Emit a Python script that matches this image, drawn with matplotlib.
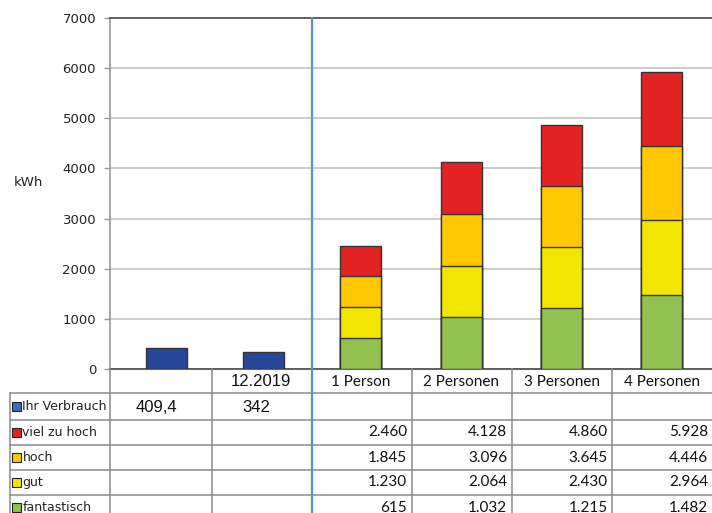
import matplotlib.pyplot as plt
from matplotlib.patches import Rectangle
from matplotlib.transforms import blended_transform_factory

# data
kategorien = ["", "12.2019", "1 Person", "2 Personen", "3 Personen", "4 Personen"]
verbrauch = [409.4, 342]
verbrauch_txt = ["409,4", "342"]
serien = ["viel zu hoch", "hoch", "gut", "fantastisch"]
viel_zu_hoch = [2460, 4128, 4860, 5928]
hoch = [1845, 3096, 3645, 4446]
gut = [1230, 2064, 2430, 2964]
fantastisch = [615, 1032, 1215, 1482]

farben = {"Ihr Verbrauch": "#27479a", "viel zu hoch": "#e32322",
          "hoch": "#ffc800", "gut": "#f2e500", "fantastisch": "#92c151"}

W, H = 712, 513
fig = plt.figure(figsize=(W / 100, H / 100), dpi=100)
ax = fig.add_axes([110 / W, (H - 369) / H, 602 / W, 351 / H])

def fy(p):  # pixel row -> figure fraction
    return 1 - p / H

def fx(p):
    return p / W

# bars
ax.bar([0.06, 1.03], verbrauch, width=0.41, color=farben["Ihr Verbrauch"],
       edgecolor="#333333", linewidth=1, zorder=3)
pos = [2, 3, 4, 5]
for name, werte in zip(serien, [viel_zu_hoch, hoch, gut, fantastisch]):
    ax.bar(pos, werte, width=0.41, color=farben[name], edgecolor="#333333",
           linewidth=1, zorder=3)

ax.set_xlim(-0.5, 5.5)
ax.set_ylim(0, 7000)
ax.set_yticks(range(0, 7001, 1000))
ax.set_xticks([])
ax.yaxis.grid(True, color="#c4c4c4", linewidth=1.2)
ax.set_axisbelow(True)
ax.spines["right"].set_visible(False)
ax.spines["top"].set_color("#555555")
ax.spines["top"].set_linewidth(1.3)
ax.spines["bottom"].set_color("#555555")
ax.spines["bottom"].set_linewidth(1.3)
ax.spines["left"].set_color("#999999")
ax.spines["left"].set_linewidth(1.2)
ax.tick_params(axis="y", length=4.5, width=1, color="#999999", pad=5.5,
               labelsize=9.5, labelcolor="#222222")
fig.text(fx(28), fy(183), "kWh", ha="center", va="center", fontsize=9.5,
         color="#222222")

# table lines
grau = "#8a8a8a"
for yp in [393, 420, 445, 470, 495]:
    fig.add_artist(plt.Line2D([fx(10), fx(712)], [fy(yp), fy(yp)], color=grau, lw=1.1))
fig.add_artist(plt.Line2D([fx(10), fx(10)], [fy(393), fy(513)], color=grau, lw=1.1))
fig.add_artist(plt.Line2D([fx(110), fx(110)], [fy(369), fy(513)], color=grau, lw=1.1))
for xp in [212, 412, 512, 612]:
    fig.add_artist(plt.Line2D([fx(xp), fx(xp)], [fy(369), fy(513)], color=grau, lw=1.1))
# blue separator
fig.add_artist(plt.Line2D([fx(312), fx(312)], [fy(18), fy(513)], color="#5b8fd3", lw=1.6))

trans = blended_transform_factory(ax.transData, fig.transFigure)

# header row
ax.text(1, fy(381), kategorien[1], transform=trans, ha="center", va="center",
        fontsize=12, family="Liberation Sans", color="#111111", clip_on=False)
for i in range(2, 6):
    ax.text(i, fy(382), kategorien[i], transform=trans, ha="center", va="center",
            fontsize=11, family="Lato", color="#111111", clip_on=False)

# row labels
zeilen = ["Ihr Verbrauch"] + serien
zeilen_y = [406.5, 432.5, 457.5, 482.5, 507.5]
for name, yp in zip(zeilen, zeilen_y):
    fig.add_artist(Rectangle((fx(11.5), fy(yp + 4.5)), fx(9), 9 / H,
                             facecolor="#3a6cc0" if name == "Ihr Verbrauch" else farben[name],
                             edgecolor="#222222", lw=0.8, transform=fig.transFigure))
    fig.text(fx(22.5), fy(yp), name, ha="left", va="center", fontsize=9,
             color="#222222")

# values
for i, t in enumerate(verbrauch_txt):
    ax.text(i - 0.04, fy(407), t, transform=trans, ha="center", va="center",
            fontsize=12, family="Liberation Sans", color="#111111", clip_on=False)

def fmt(v):
    return f"{v:,}".replace(",", ".")

for werte, yp in zip([viel_zu_hoch, hoch, gut, fantastisch], zeilen_y[1:]):
    for i, v in zip(pos, werte):
        ax.text(i + 0.46, fy(yp), fmt(v), transform=trans, ha="right", va="center",
                fontsize=11, family="Lato", color="#111111", clip_on=False)

fig.savefig("out.png", dpi=100)
